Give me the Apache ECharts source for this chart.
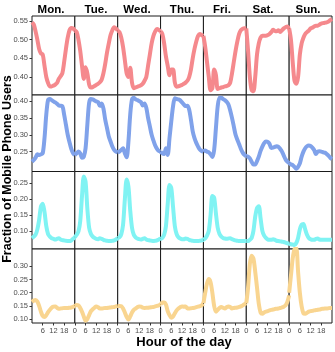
<!DOCTYPE html>
<html>
<head>
<meta charset="utf-8">
<script src="https://cdn.jsdelivr.net/npm/echarts@6/dist/echarts.min.js"></script>
<style>
  html, body { margin: 0; padding: 0; background: #fff; }
  #chart { width: 335px; height: 352px; }
</style>
</head>
<body>
<div id="chart"></div>
<script>
// Days (columns) and hours (x values of every panel)
const days = ['Mon.', 'Tue.', 'Wed.', 'Thu.', 'Fri.', 'Sat.', 'Sun.'];
const hours = [0, 1, 2, 3, 4, 5, 6, 7, 8, 9, 10, 11, 12, 13, 14, 15, 16, 17, 18, 19, 20, 21, 22, 23, 24];

// Row 1 (red)
const rowRed = [
  [0.546, 0.54, 0.522, 0.50, 0.475, 0.463, 0.46, 0.43, 0.40, 0.384, 0.375, 0.375, 0.377, 0.38, 0.384, 0.395, 0.402, 0.41, 0.44, 0.475, 0.505, 0.525, 0.531, 0.53, 0.524],
  [0.524, 0.52, 0.50, 0.47, 0.43, 0.395, 0.426, 0.41, 0.38, 0.372, 0.373, 0.376, 0.379, 0.382, 0.386, 0.393, 0.41, 0.435, 0.465, 0.49, 0.512, 0.525, 0.533, 0.53, 0.524],
  [0.524, 0.52, 0.505, 0.48, 0.445, 0.41, 0.40, 0.425, 0.385, 0.37, 0.372, 0.374, 0.376, 0.378, 0.382, 0.39, 0.40, 0.43, 0.46, 0.49, 0.51, 0.522, 0.528, 0.526, 0.522],
  [0.522, 0.515, 0.49, 0.455, 0.43, 0.405, 0.42, 0.42, 0.385, 0.374, 0.375, 0.377, 0.379, 0.382, 0.385, 0.39, 0.40, 0.42, 0.45, 0.475, 0.495, 0.51, 0.515, 0.512, 0.51],
  [0.51, 0.48, 0.44, 0.40, 0.365, 0.37, 0.42, 0.405, 0.368, 0.37, 0.372, 0.373, 0.375, 0.376, 0.378, 0.385, 0.41, 0.44, 0.47, 0.495, 0.515, 0.525, 0.529, 0.53, 0.53],
  [0.53, 0.47, 0.40, 0.365, 0.362, 0.40, 0.46, 0.49, 0.505, 0.51, 0.51, 0.51, 0.512, 0.515, 0.52, 0.526, 0.523, 0.522, 0.525, 0.52, 0.525, 0.53, 0.533, 0.535, 0.53],
  [0.53, 0.50, 0.44, 0.39, 0.382, 0.40, 0.46, 0.49, 0.505, 0.515, 0.52, 0.524, 0.53, 0.532, 0.535, 0.537, 0.537, 0.54, 0.543, 0.544, 0.545, 0.546, 0.548, 0.552, 0.555]
];

// Row 2 (blue)
const rowBlue = [
  [0.22, 0.225, 0.232, 0.242, 0.24, 0.242, 0.245, 0.29, 0.36, 0.403, 0.406, 0.403, 0.399, 0.396, 0.392, 0.387, 0.386, 0.385, 0.36, 0.33, 0.30, 0.278, 0.258, 0.245, 0.24],
  [0.24, 0.245, 0.25, 0.245, 0.232, 0.235, 0.26, 0.33, 0.395, 0.406, 0.405, 0.402, 0.399, 0.397, 0.386, 0.393, 0.378, 0.345, 0.32, 0.295, 0.28, 0.265, 0.255, 0.25, 0.248],
  [0.248, 0.25, 0.255, 0.26, 0.245, 0.233, 0.28, 0.36, 0.405, 0.41, 0.405, 0.403, 0.40, 0.397, 0.387, 0.393, 0.38, 0.35, 0.325, 0.30, 0.283, 0.268, 0.258, 0.252, 0.25],
  [0.25, 0.245, 0.243, 0.26, 0.24, 0.29, 0.34, 0.385, 0.408, 0.406, 0.405, 0.402, 0.396, 0.39, 0.385, 0.386, 0.375, 0.345, 0.31, 0.29, 0.276, 0.265, 0.256, 0.252, 0.25],
  [0.25, 0.253, 0.25, 0.248, 0.242, 0.234, 0.255, 0.32, 0.385, 0.41, 0.41, 0.406, 0.403, 0.398, 0.39, 0.372, 0.35, 0.325, 0.30, 0.285, 0.272, 0.258, 0.247, 0.24, 0.236],
  [0.236, 0.235, 0.23, 0.22, 0.212, 0.212, 0.222, 0.235, 0.252, 0.265, 0.275, 0.28, 0.279, 0.273, 0.261, 0.262, 0.264, 0.266, 0.264, 0.258, 0.25, 0.238, 0.227, 0.22, 0.216],
  [0.216, 0.212, 0.21, 0.205, 0.199, 0.205, 0.215, 0.235, 0.25, 0.26, 0.266, 0.268, 0.267, 0.262, 0.255, 0.243, 0.25, 0.251, 0.25, 0.248, 0.247, 0.243, 0.238, 0.232, 0.228]
];

// Row 3 (cyan)
const rowCyan = [
  [0.077, 0.082, 0.088, 0.105, 0.135, 0.177, 0.186, 0.16, 0.115, 0.09, 0.082, 0.077, 0.075, 0.073, 0.075, 0.077, 0.073, 0.071, 0.07, 0.069, 0.068, 0.068, 0.07, 0.075, 0.08],
  [0.08, 0.088, 0.098, 0.13, 0.21, 0.272, 0.255, 0.17, 0.11, 0.09, 0.082, 0.078, 0.075, 0.074, 0.077, 0.075, 0.072, 0.07, 0.069, 0.068, 0.068, 0.069, 0.07, 0.073, 0.077],
  [0.077, 0.08, 0.09, 0.12, 0.20, 0.262, 0.24, 0.165, 0.11, 0.088, 0.08, 0.076, 0.074, 0.073, 0.075, 0.077, 0.073, 0.071, 0.07, 0.069, 0.068, 0.069, 0.07, 0.073, 0.076],
  [0.075, 0.078, 0.088, 0.115, 0.185, 0.245, 0.235, 0.175, 0.115, 0.09, 0.08, 0.076, 0.074, 0.074, 0.076, 0.075, 0.072, 0.07, 0.069, 0.068, 0.068, 0.068, 0.069, 0.07, 0.072],
  [0.072, 0.076, 0.085, 0.10, 0.15, 0.21, 0.205, 0.155, 0.11, 0.09, 0.082, 0.078, 0.076, 0.075, 0.076, 0.077, 0.074, 0.072, 0.07, 0.069, 0.068, 0.068, 0.068, 0.068, 0.068],
  [0.068, 0.068, 0.072, 0.078, 0.10, 0.145, 0.172, 0.178, 0.14, 0.10, 0.085, 0.078, 0.073, 0.072, 0.072, 0.074, 0.072, 0.069, 0.068, 0.067, 0.066, 0.065, 0.063, 0.061, 0.06],
  [0.06, 0.058, 0.057, 0.056, 0.062, 0.078, 0.105, 0.12, 0.122, 0.105, 0.088, 0.078, 0.074, 0.072, 0.072, 0.075, 0.076, 0.073, 0.072, 0.072, 0.072, 0.072, 0.072, 0.072, 0.072]
];

// Row 4 (orange)
const rowOrange = [
  [0.165, 0.17, 0.172, 0.166, 0.15, 0.128, 0.112, 0.108, 0.115, 0.126, 0.135, 0.143, 0.147, 0.148, 0.143, 0.139, 0.14, 0.141, 0.142, 0.142, 0.142, 0.143, 0.144, 0.146, 0.15],
  [0.15, 0.153, 0.152, 0.142, 0.128, 0.11, 0.094, 0.10, 0.115, 0.13, 0.137, 0.143, 0.148, 0.145, 0.14, 0.14, 0.141, 0.142, 0.142, 0.143, 0.144, 0.145, 0.146, 0.148, 0.15],
  [0.15, 0.15, 0.149, 0.14, 0.125, 0.108, 0.098, 0.11, 0.125, 0.135, 0.14, 0.145, 0.148, 0.147, 0.143, 0.142, 0.143, 0.143, 0.144, 0.145, 0.146, 0.148, 0.15, 0.152, 0.155],
  [0.155, 0.163, 0.163, 0.155, 0.13, 0.115, 0.105, 0.11, 0.122, 0.133, 0.14, 0.145, 0.148, 0.147, 0.148, 0.141, 0.14, 0.141, 0.142, 0.143, 0.145, 0.147, 0.149, 0.152, 0.158],
  [0.16, 0.20, 0.235, 0.252, 0.24, 0.20, 0.15, 0.128, 0.135, 0.142, 0.146, 0.143, 0.14, 0.145, 0.148, 0.146, 0.14, 0.142, 0.143, 0.144, 0.146, 0.148, 0.152, 0.156, 0.16],
  [0.16, 0.22, 0.31, 0.34, 0.33, 0.28, 0.22, 0.158, 0.125, 0.12, 0.125, 0.128, 0.13, 0.133, 0.135, 0.136, 0.138, 0.139, 0.14, 0.142, 0.144, 0.147, 0.152, 0.165, 0.19],
  [0.20, 0.265, 0.33, 0.365, 0.37, 0.28, 0.20, 0.148, 0.122, 0.12, 0.124, 0.128, 0.13, 0.131, 0.133, 0.134, 0.135, 0.136, 0.138, 0.139, 0.14, 0.14, 0.141, 0.142, 0.142]
];

const rows = [rowRed, rowBlue, rowCyan, rowOrange];
const rowColors = ['#f5898d', '#80a2ea', '#80f3f3', '#f9d590'];

// y scale of each row and its tick labels
const yRanges = [[0.352, 0.563], [0.191, 0.418], [0.043, 0.2875], [0.085, 0.366]];
const yTicks = [
  [0.40, 0.45, 0.50, 0.55],
  [0.25, 0.30, 0.35, 0.40],
  [0.10, 0.15, 0.20, 0.25],
  [0.10, 0.15, 0.20, 0.25, 0.30]
];
const xTicks = [6, 12, 18, 24];
const xTicksLast = [6, 12, 18];

// layout
const plotLeft = 32, plotRight = 332;
const rowEdges = [16, 95, 171.5, 249, 323];
const colW = (plotRight - plotLeft) / days.length;
const titleX = [51, 96, 137, 182, 222, 263, 308];
const fontFam = '"Liberation Sans", Arial, Helvetica, sans-serif';

const chart = echarts.init(document.getElementById('chart'));

const grids = [], xAxes = [], yAxes = [], series = [];
rows.forEach((row, r) => {
  row.forEach((vals, c) => {
    const idx = grids.length;
    grids.push({
      left: plotLeft + c * colW,
      top: rowEdges[r],
      width: colW,
      height: rowEdges[r + 1] - rowEdges[r],
      show: true,
      borderColor: '#1a1a1a',
      borderWidth: 1,
      backgroundColor: '#fff'
    });
    const bottom = r === rows.length - 1;
    const ticksX = c === days.length - 1 ? xTicksLast : xTicks;
    xAxes.push({
      type: 'value', gridIndex: idx, min: 0, max: 24,
      axisLine: { show: false },
      splitLine: { show: false },
      axisTick: { show: bottom, customValues: ticksX, length: 2.5, lineStyle: { color: '#333' } },
      axisLabel: {
        show: bottom, customValues: ticksX, margin: 3.5,
        fontSize: 7.5, color: '#4d4d4d', fontFamily: fontFam,
        formatter: v => (v === 24 ? '0' : String(v))
      }
    });
    const first = c === 0;
    yAxes.push({
      type: 'value', gridIndex: idx, min: yRanges[r][0], max: yRanges[r][1],
      axisLine: { show: false },
      splitLine: { show: false },
      axisTick: { show: first, customValues: yTicks[r], length: 2.5, lineStyle: { color: '#333' } },
      axisLabel: {
        show: first, customValues: yTicks[r], margin: 4,
        fontSize: 7.5, color: '#4d4d4d', fontFamily: fontFam,
        formatter: v => v.toFixed(2)
      }
    });
    series.push({
      type: 'line', xAxisIndex: idx, yAxisIndex: idx,
      data: hours.map((h, i) => [h, vals[i]]),
      smooth: 0.3, showSymbol: false, clip: true,
      lineStyle: { color: rowColors[r], width: 4 },
      silent: true, animation: false
    });
  });
});

const graphic = days.map((d, c) => ({
  type: 'text', x: titleX[c], y: 10,
  style: { text: d, font: 'bold 11.5px ' + fontFam, fill: '#000', textAlign: 'center', textVerticalAlign: 'middle' }
}));
graphic.push({
  type: 'text', x: 8, y: 169, rotation: Math.PI / 2,
  style: { text: 'Fraction of Mobile Phone Users', font: 'bold 12.5px ' + fontFam, fill: '#000', textAlign: 'center', textVerticalAlign: 'middle' }
});
graphic.push({
  type: 'text', x: 184, y: 342,
  style: { text: 'Hour of the day', font: 'bold 13px ' + fontFam, fill: '#000', textAlign: 'center', textVerticalAlign: 'middle' }
});

chart.setOption({
  animation: false,
  backgroundColor: '#fff',
  grid: grids,
  xAxis: xAxes,
  yAxis: yAxes,
  series: series,
  graphic: graphic
});
</script>
</body>
</html>
